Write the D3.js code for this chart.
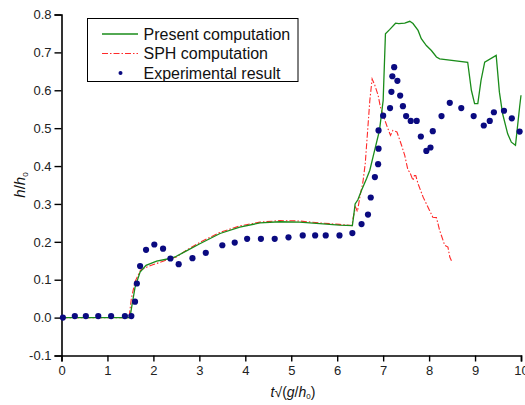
<!DOCTYPE html>
<html><head><meta charset="utf-8">
<script src="https://cdn.jsdelivr.net/npm/d3@7"></script>
<style>
body{margin:0;background:#fff;}
svg{font-family:"Liberation Sans",Arial,sans-serif;}
</style></head>
<body><svg id="c" width="525" height="405"></svg>
<script>
const xTicks=[0,1,2,3,4,5,6,7,8,9,10];
const yTicks=[-0.1,0.0,0.1,0.2,0.3,0.4,0.5,0.6,0.7,0.8];
const seriesNames=["Present computation","SPH computation","Experimental result"];

const presentT=[0,1.49,1.53,1.6,1.71,1.84,2.07,2.36,2.47,2.72,3.01,3.45,3.88,4.32,4.75,5.18,5.62,6.05,6.33,6.36,6.39,6.45,6.53,6.64,6.71,6.78,6.92,7.0,7.05,7.14,7.27,7.34,7.47,7.58,7.65,7.76,7.83,7.94,8.05,8.16,8.23,8.84,8.92,8.99,9.06,9.13,9.21,9.46,9.53,9.6,9.71,9.79,9.88,9.97,10.0];
const presentH=[0,0,0.03,0.08,0.12,0.138,0.149,0.156,0.16,0.176,0.195,0.222,0.239,0.25,0.253,0.252,0.248,0.244,0.243,0.27,0.3,0.311,0.336,0.367,0.389,0.424,0.494,0.573,0.749,0.76,0.777,0.776,0.777,0.782,0.776,0.758,0.736,0.718,0.705,0.688,0.683,0.674,0.6,0.565,0.565,0.626,0.674,0.692,0.595,0.538,0.485,0.463,0.455,0.556,0.587];

const sphT=[0,1.47,1.52,1.6,1.72,1.85,2.0,2.36,2.5,2.72,3.0,3.45,3.88,4.32,4.75,5.18,5.62,6.05,6.32,6.35,6.4,6.44,6.5,6.56,6.61,6.71,6.76,6.82,6.89,6.94,7.0,7.09,7.16,7.21,7.3,7.4,7.47,7.54,7.58,7.65,7.68,7.71,7.76,7.87,8.01,8.08,8.16,8.23,8.34,8.41,8.45,8.49];
const sphH=[0,0,0.05,0.095,0.125,0.133,0.14,0.155,0.16,0.178,0.198,0.225,0.242,0.252,0.256,0.255,0.25,0.246,0.243,0.265,0.292,0.28,0.323,0.358,0.406,0.573,0.63,0.613,0.587,0.556,0.534,0.503,0.481,0.494,0.49,0.455,0.428,0.389,0.384,0.362,0.375,0.375,0.353,0.318,0.283,0.265,0.264,0.23,0.191,0.186,0.16,0.149];

const expT=[0.03,0.29,0.53,0.8,1.08,1.38,1.52,1.6,1.64,1.71,1.84,2.02,2.21,2.37,2.55,2.85,3.14,3.5,3.77,4.04,4.34,4.64,4.94,5.25,5.52,5.75,6.05,6.33,6.53,6.67,6.73,6.82,6.89,6.9,6.9,7.0,7.15,7.18,7.2,7.24,7.31,7.37,7.43,7.5,7.6,7.73,7.82,7.94,8.03,8.08,8.27,8.45,8.7,8.97,9.19,9.32,9.41,9.63,9.8,9.97];
const expH=[0.0,0.004,0.004,0.004,0.004,0.004,0.004,0.042,0.09,0.136,0.179,0.193,0.182,0.156,0.141,0.157,0.171,0.191,0.198,0.208,0.208,0.208,0.212,0.217,0.217,0.217,0.217,0.223,0.247,0.272,0.317,0.371,0.405,0.446,0.494,0.533,0.553,0.596,0.637,0.661,0.625,0.586,0.558,0.532,0.519,0.519,0.478,0.44,0.449,0.492,0.532,0.567,0.553,0.532,0.507,0.519,0.542,0.546,0.526,0.491];

const svg=d3.select("#c");
const x=d3.scaleLinear().domain([0,10]).range([61.5,521]);
const y=d3.scaleLinear().domain([-0.1,0.8]).range([355.5,14.5]);

// axes
const fmtY=d=>d3.format(".1f")(d).replace("\u2212","-");
const xAxis=d3.axisBottom(x).tickValues(xTicks).tickFormat(d3.format("d")).tickSizeOuter(0).tickSize(6).tickPadding(4);
const yAxis=d3.axisLeft(y).tickValues(yTicks).tickFormat(fmtY).tickSizeOuter(0).tickSize(7).tickPadding(3);
const gx=svg.append("g").attr("transform","translate(0,355.5)").call(xAxis);
const gy=svg.append("g").attr("transform","translate(61.5,0)").call(yAxis);
[gx,gy].forEach(g=>{
  g.selectAll("path").attr("stroke","#000").attr("stroke-width",1.6);
  g.selectAll("line").attr("stroke","#000").attr("stroke-width",1.4);
  g.selectAll("text").attr("font-size","13px").attr("fill","#222").attr("font-family","Liberation Sans, Arial, sans-serif");
});

// lines
const lineP=d3.line().x((d,i)=>x(presentT[i])).y((d,i)=>y(presentH[i]));
const lineS=d3.line().x((d,i)=>x(sphT[i])).y((d,i)=>y(sphH[i]));
svg.append("path").datum(sphH).attr("d",lineS).attr("fill","none").attr("stroke","#ff2a2a").attr("stroke-width",1.1).attr("stroke-dasharray","6,2,1.5,2");
svg.append("path").datum(presentH).attr("d",lineP).attr("fill","none").attr("stroke","#1a8c1a").attr("stroke-width",1.3);

// points
svg.append("g").selectAll("circle").data(expH).join("circle")
  .attr("cx",(d,i)=>x(expT[i])).attr("cy",d=>y(d)).attr("r",3.1).attr("fill","#0a0a80");

// legend
const lg=svg.append("g");
lg.append("rect").attr("x",87.5).attr("y",18.5).attr("width",210.5).attr("height",63).attr("fill","#fff").attr("stroke","#000").attr("stroke-width",1);
const rows=[34,53.5,73];
lg.append("line").attr("x1",102).attr("x2",138).attr("y1",rows[0]).attr("y2",rows[0]).attr("stroke","#1a8c1a").attr("stroke-width",1.3);
lg.append("line").attr("x1",102).attr("x2",138).attr("y1",rows[1]).attr("y2",rows[1]).attr("stroke","#ff2a2a").attr("stroke-width",1.1).attr("stroke-dasharray","6,2,1.5,2");
lg.append("circle").attr("cx",120.5).attr("cy",rows[2]).attr("r",2).attr("fill","#0a0a80");
seriesNames.forEach((s,i)=>{
  lg.append("text").attr("x",143.5).attr("y",rows[i]+5.5).attr("font-size","16px").attr("fill","#111").text(s);
});

// axis labels
const yl=svg.append("text").attr("transform","translate(25,185) rotate(-90)").attr("text-anchor","middle").attr("font-size","15px").attr("fill","#111");
yl.append("tspan").attr("font-style","italic").text("h");
yl.append("tspan").text("/");
yl.append("tspan").attr("font-style","italic").text("h");
yl.append("tspan").attr("font-size","8px").attr("dy","3").text("0");

const xl=svg.append("text").attr("x",293).attr("y",397).attr("text-anchor","middle").attr("font-size","14px").attr("fill","#111");
xl.append("tspan").attr("font-style","italic").text("t");
xl.append("tspan").text("√(");
xl.append("tspan").attr("font-style","italic").text("g");
xl.append("tspan").text("/");
xl.append("tspan").attr("font-style","italic").text("h");
xl.append("tspan").attr("font-size","8px").attr("dy","2").text("0");
xl.append("tspan").attr("dy","-2").text(")");
</script></body></html>
